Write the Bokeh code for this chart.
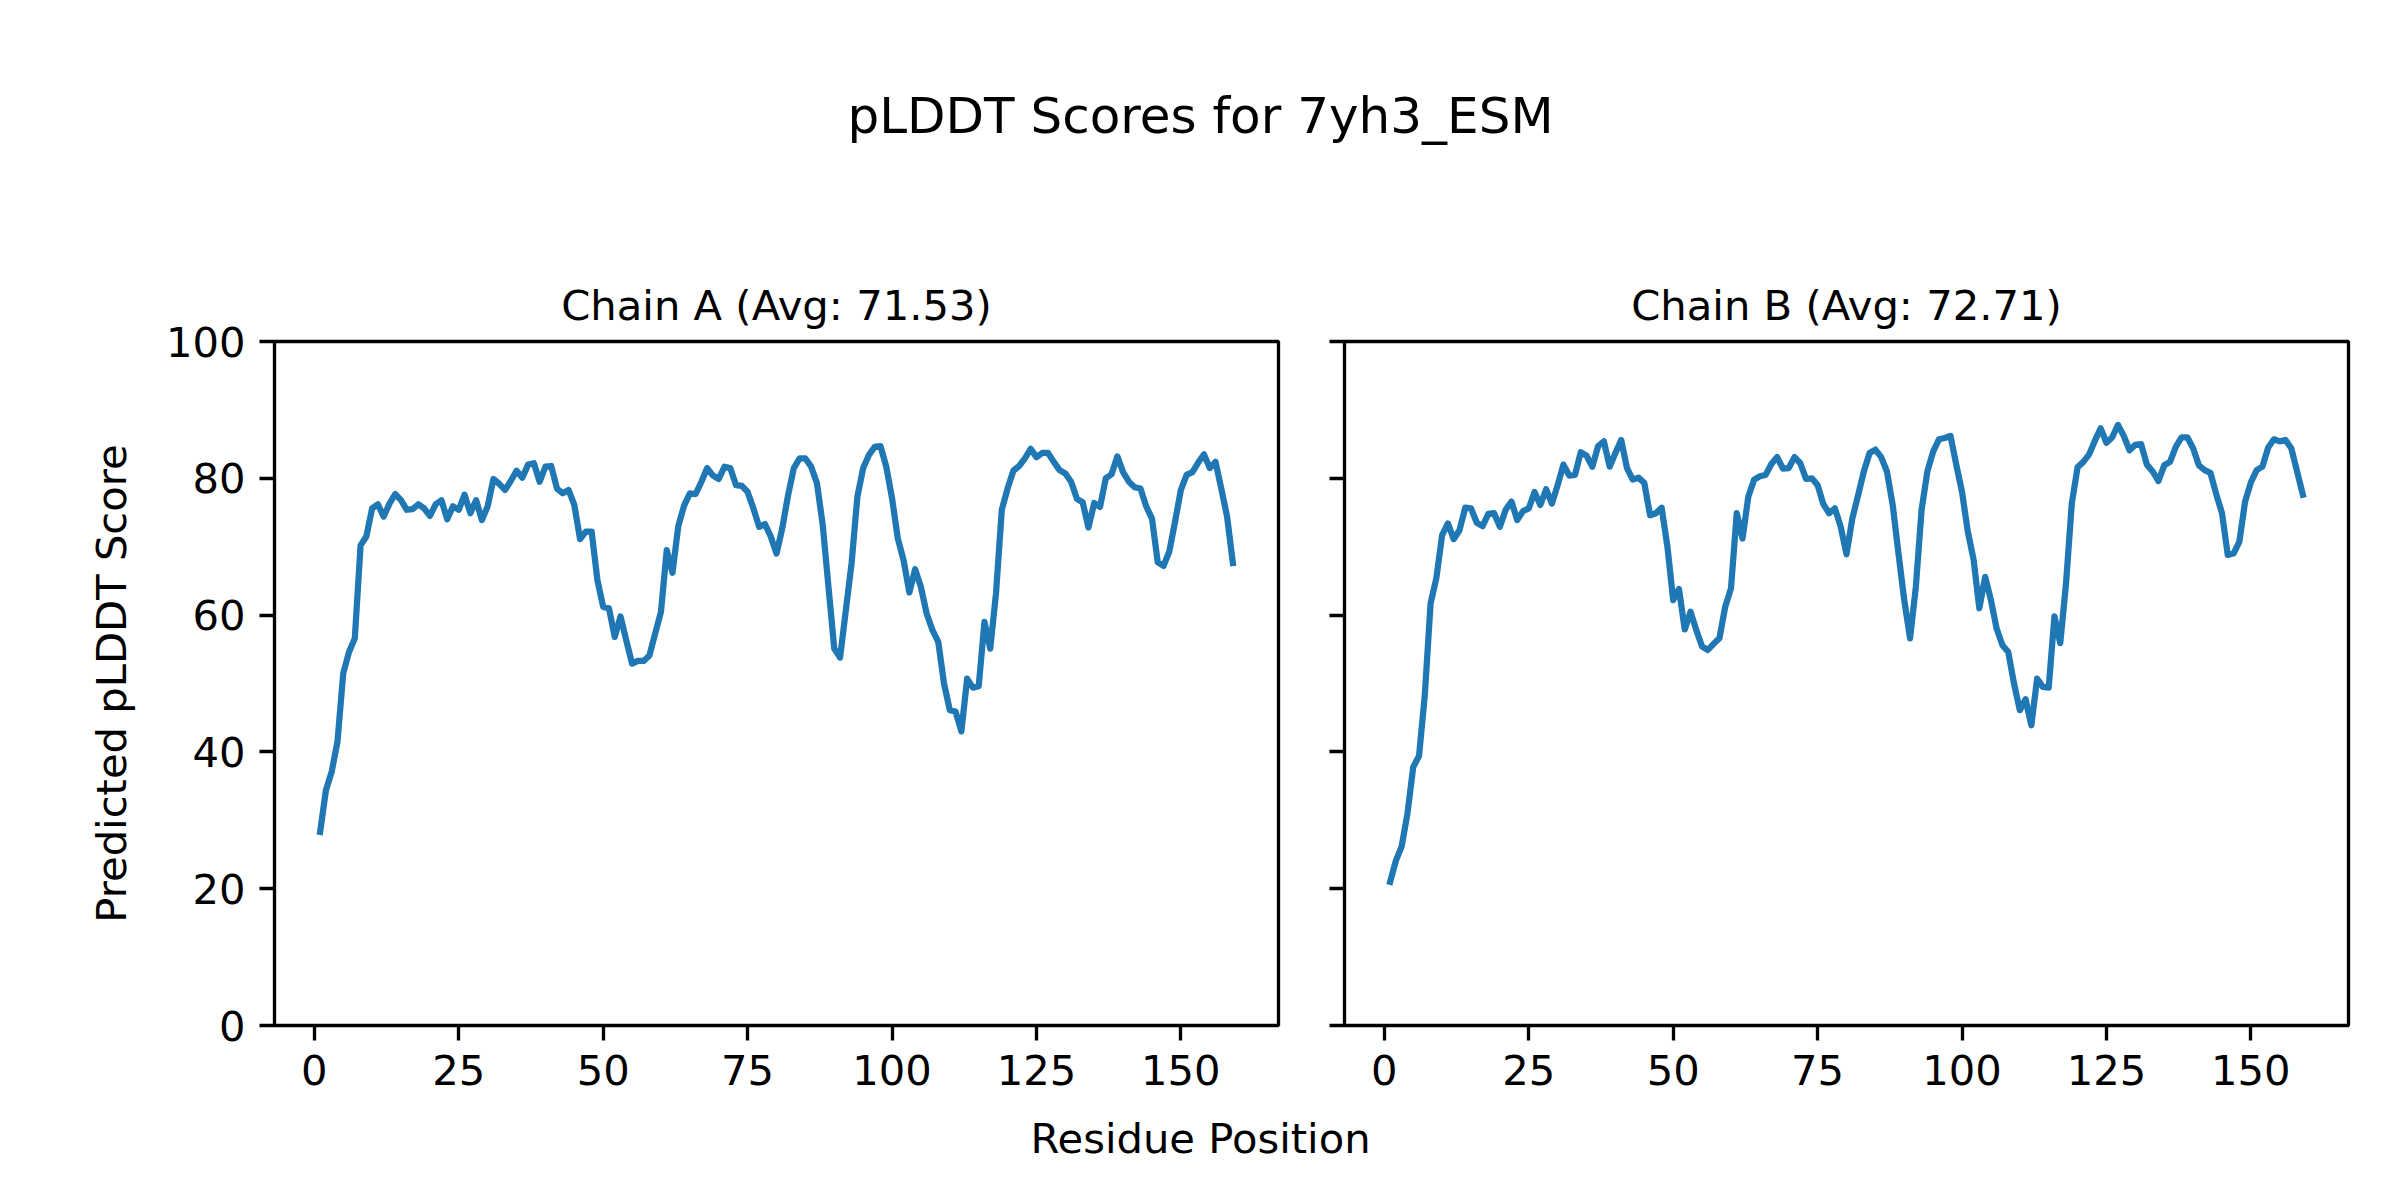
from bokeh.plotting import figure
from bokeh.layouts import column, row
from bokeh.models import Range1d, FixedTicker, Title
from bokeh.core.properties import value
from bokeh.embed import file_html
from bokeh.resources import INLINE

# ---------------- data ----------------
residues = list(range(1, 160))

chain_a = [
    28.3, 34.4, 37.1, 41.5, 51.5, 54.6, 56.6, 70.2, 71.5, 75.6,
    76.2, 74.4, 76.3, 77.7, 76.8, 75.4, 75.5, 76.2, 75.6, 74.5,
    76.2, 76.8, 74.0, 75.9, 75.4, 77.6, 74.9, 76.8, 73.9, 75.9,
    79.9, 79.2, 78.3, 79.6, 81.1, 80.1, 82.0, 82.2, 79.5, 81.7,
    81.8, 78.5, 77.8, 78.3, 76.1, 71.1, 72.2, 72.2, 65.1, 61.2,
    61.0, 56.8, 59.8, 56.3, 52.9, 53.3, 53.3, 54.1, 57.3, 60.5,
    69.5, 66.2, 73.0, 76.0, 77.8, 77.7, 79.5, 81.5, 80.4, 79.9,
    81.7, 81.5, 79.0, 78.9, 78.0, 75.6, 72.9, 73.3, 71.5, 69.0,
    72.7, 77.5, 81.5, 82.9, 82.9, 81.7, 79.3, 73.2, 64.1, 55.1,
    53.8, 60.7, 67.6, 77.3, 81.5, 83.4, 84.6, 84.7, 81.7, 77.1,
    71.2, 68.0, 63.3, 66.7, 64.1, 60.2, 57.8, 56.1, 50.0, 46.1,
    45.9, 43.0, 50.7, 49.4, 49.6, 59.0, 55.1, 63.2, 75.4, 78.5,
    81.1, 81.8, 82.9, 84.3, 83.1, 83.7, 83.7, 82.4, 81.2, 80.7,
    79.5, 77.0, 76.5, 72.8, 76.4, 75.8, 80.0, 80.6, 83.2, 80.9,
    79.5, 78.7, 78.5, 75.9, 74.1, 67.7, 67.2, 69.3, 73.7, 78.3,
    80.5, 80.9, 82.3, 83.5, 81.5, 82.4, 78.5, 74.4, 67.6,
]

chain_b = [
    21.0, 24.1, 26.2, 31.0, 37.8, 39.4, 48.3, 61.7, 65.4, 71.7,
    73.4, 71.1, 72.4, 75.7, 75.6, 73.5, 73.0, 74.8, 74.9, 72.9,
    75.4, 76.6, 73.9, 75.2, 75.6, 78.0, 76.1, 78.4, 76.3, 79.0,
    82.0, 80.4, 80.5, 83.8, 83.3, 81.7, 84.7, 85.4, 81.7, 83.7,
    85.6, 81.5, 79.8, 80.1, 79.3, 74.6, 74.9, 75.7, 70.0, 62.2,
    63.8, 57.9, 60.5, 57.8, 55.4, 54.9, 55.8, 56.6, 61.2, 63.9,
    74.9, 71.2, 77.3, 79.8, 80.3, 80.5, 82.1, 83.1, 81.4, 81.5,
    83.1, 82.2, 79.9, 80.0, 79.0, 76.2, 74.9, 75.6, 72.9, 68.9,
    74.1, 77.5, 81.0, 83.7, 84.2, 83.1, 81.0, 76.1, 69.0, 62.2,
    56.6, 64.1, 75.4, 81.0, 83.9, 85.7, 85.9, 86.2, 82.0, 78.0,
    72.2, 68.1, 61.0, 65.6, 62.2, 58.0, 55.6, 54.6, 50.0, 46.1,
    47.7, 43.9, 50.7, 49.5, 49.4, 59.8, 55.9, 64.6, 76.3, 81.6,
    82.4, 83.5, 85.5, 87.3, 85.2, 86.0, 87.8, 86.2, 84.1, 84.9,
    85.0, 82.0, 81.0, 79.6, 81.9, 82.4, 84.6, 86.0, 86.0, 84.4,
    81.9, 81.2, 80.8, 77.7, 74.9, 68.8, 69.0, 70.7, 76.6, 79.4,
    81.2, 81.7, 84.5, 85.7, 85.4, 85.6, 84.4, 81.0, 77.6,
]

chain_titles = ["Chain A (Avg: 71.53)", "Chain B (Avg: 72.71)"]
suptitle = "pLDDT Scores for 7yh3_ESM"
x_label = "Residue Position"
y_label = "Predicted pLDDT Score"
x_ticks = [0, 25, 50, 75, 100, 125, 150]
y_ticks = [0, 20, 40, 60, 80, 100]

# ---------------- styling / layout ----------------
FONT = "DejaVu Sans"
TICK_FS = "41.7px"
TITLE_FS = "41.7px"
SUP_FS = "50px"
LINE_COLOR = "#1f77b4"
SPINE_W = 3.33

TOTAL_W = 2384
HEADER_H = 200
FRAME_W = 1004
FRAME_H = 684
TOP_B = 341 - HEADER_H
BOT_B = 85
FOOTER_H = 1184 - (HEADER_H + TOP_B + FRAME_H + BOT_B)
A_LEFT = 274
A_RIGHT = 33
B_LEFT = 33
B_RIGHT = TOTAL_W - (A_LEFT + FRAME_W + A_RIGHT) - B_LEFT - FRAME_W


def blank(height):
    p = figure(frame_width=TOTAL_W, frame_height=height,
               x_range=Range1d(0, TOTAL_W), y_range=Range1d(height, 0),
               x_axis_type=None, y_axis_type=None, title=None,
               output_backend="svg", toolbar_location=None,
               min_border=0, outline_line_color=None)
    p.xgrid.visible = False
    p.ygrid.visible = False
    p.background_fill_color = "white"
    p.border_fill_color = "white"
    return p


def chain_plot(values, left, right, title_text, first):
    p = figure(frame_width=FRAME_W, frame_height=FRAME_H,
               x_range=Range1d(-6.9, 166.9), y_range=Range1d(0, 100),
               output_backend="svg", toolbar_location=None,
               min_border_left=left, min_border_right=right,
               min_border_top=TOP_B, min_border_bottom=BOT_B)
    p.title = Title(text=title_text, align="center", text_font=FONT,
                    text_font_size=TITLE_FS, text_font_style="normal",
                    text_color="black", standoff=23)
    p.line(residues, values, line_color=LINE_COLOR, line_width=6.25,
           line_join="round", line_cap="square")
    p.xgrid.visible = False
    p.ygrid.visible = False
    p.outline_line_color = "black"
    p.outline_line_width = SPINE_W
    p.outline_line_alpha = 1.0
    p.background_fill_color = "white"
    p.border_fill_color = "white"
    p.xaxis.ticker = FixedTicker(ticks=x_ticks)
    p.yaxis.ticker = FixedTicker(ticks=y_ticks)
    for ax in (p.xaxis, p.yaxis):
        ax.axis_line_color = None
        ax.major_tick_line_color = "black"
        ax.major_tick_line_width = SPINE_W
        ax.major_tick_out = 15
        ax.major_tick_in = 0
        ax.minor_tick_line_color = None
        ax.major_label_text_font = FONT
        ax.major_label_text_font_size = TICK_FS
        ax.major_label_text_color = "black"
        ax.major_label_standoff = 14
    if first:
        p.yaxis.axis_label = y_label
        p.yaxis.axis_label_text_font = FONT
        p.yaxis.axis_label_text_font_size = TICK_FS
        p.yaxis.axis_label_text_font_style = "normal"
        p.yaxis.axis_label_text_color = "black"
        p.yaxis.axis_label_standoff = 27
    else:
        # shared y axis: tick marks only, no labels
        p.yaxis.major_label_overrides = {t: "" for t in y_ticks}
        p.yaxis.major_label_standoff = 0
    return p


header = blank(HEADER_H)
header.text(x=[1200], y=[115], text=[suptitle], text_font=value(FONT),
            text_font_size=value(SUP_FS), text_align="center",
            text_baseline="middle", text_color="black")

pa = chain_plot(chain_a, A_LEFT, A_RIGHT, chain_titles[0], True)
pb = chain_plot(chain_b, B_LEFT, B_RIGHT, chain_titles[1], False)

footer = blank(FOOTER_H)
footer.text(x=[1200], y=[1137.5 - (HEADER_H + TOP_B + FRAME_H + BOT_B)],
            text=[x_label], text_font=value(FONT),
            text_font_size=value(TICK_FS), text_align="center",
            text_baseline="middle", text_color="black")

layout = column(header, row(pa, pb, spacing=0), footer, spacing=0)

open("out.html", "w").write(file_html(layout, INLINE))
